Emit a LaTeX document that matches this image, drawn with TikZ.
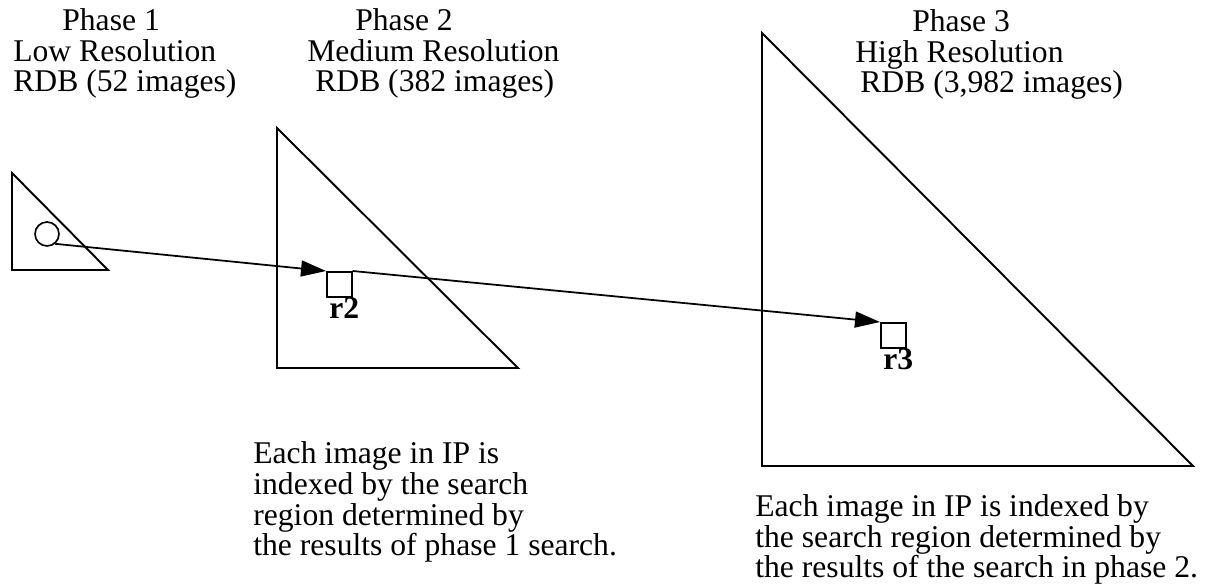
\documentclass[tikz,border=0pt]{standalone}
\usepackage{fontspec}
\setmainfont{Liberation Serif}
\usetikzlibrary{arrows.meta,positioning}

\begin{document}
\begin{tikzpicture}[x=0.02cm, y=-0.02cm, >={Triangle[length=0.5cm, width=0.32cm]},
  font=\fontsize{18}{17.6}\selectfont,
  tri/.style={line width=1.1pt, line join=miter},
  caption/.style={anchor=base west, align=left, inner sep=0pt},
  region/.style={draw, line width=0.95pt, minimum size=0.5cm, inner sep=0pt, anchor=north west},
  tag/.style={font=\fontsize{18}{18}\selectfont\bfseries, inner sep=0pt, anchor=north}]
  \useasboundingbox (0,0) rectangle (1215,587);

  % phase headers (placed by the baseline of their last line)
  \node[caption] (head1) at (13,92) {\hspace*{0.98cm}Phase 1\\Low Resolution\\RDB (52 images)};
  \node[caption] (head2) at (307,92) {\hspace*{0.96cm}Phase 2\\Medium Resolution\\\hspace*{0.16cm}RDB (382 images)};
  \node[caption] (head3) at (855,93) {\hspace*{1.14cm}Phase 3\\High Resolution\\\hspace*{0.1cm}RDB (3,982 images)};

  % the three databases
  \draw[tri] (12,173) -- (12,270) -- (108,270) -- cycle;
  \draw[tri] (277,128) -- (277,368) -- (518,368) -- cycle;
  \draw[tri] (762,33) -- (762,466) -- (1193,466) -- cycle;

  \node[circle, draw, line width=0.95pt, minimum size=0.48cm, inner sep=0pt] (c1) at (47,234) {};
  \node[region] (r2) at (326,271) {};
  \node[region] (r3) at (880,322) {};
  \node[tag, xshift=0.1cm] (r2tag) at (r2.south) {r2};
  \node[tag, xshift=0.1cm] (r3tag) at (r3.south) {r3};

  \draw[->, line width=1pt] (c1.-50) -- (r2.north west);
  \draw[->, line width=1pt] (r2.north east) -- (r3.north west);

  % notes under the triangles
  \node[caption] (note2) at (253,556) {Each image in IP is\\indexed by the search\\region determined by\\the results of phase 1 search.};
  \node[caption] (note3) at (755,578) {Each image in IP is indexed by\\the search region determined by\\the results of the search in phase 2.};
\end{tikzpicture}
\end{document}
